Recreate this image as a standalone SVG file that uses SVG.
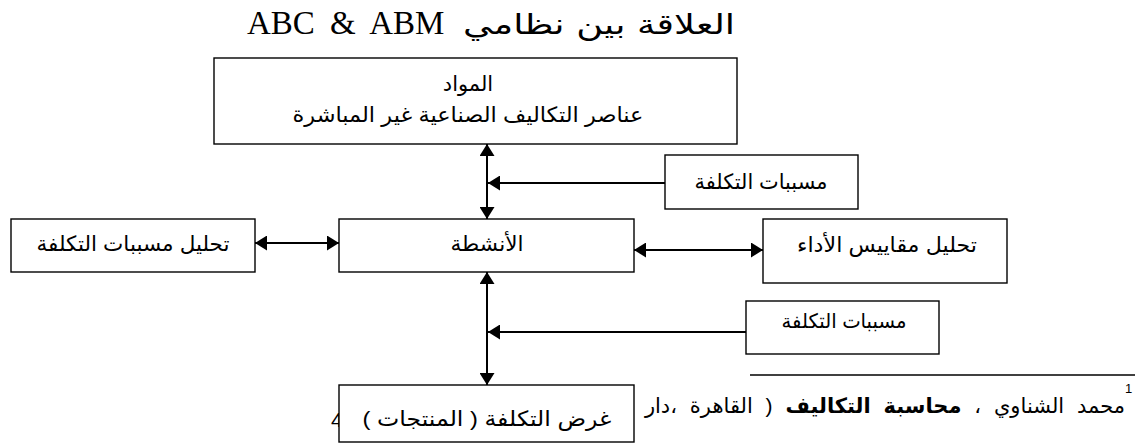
<svg xmlns="http://www.w3.org/2000/svg" width="1142" height="443" viewBox="0 0 1142 443">
<style>
.box{fill:#fff;stroke:#000;stroke-width:1.4}
.t{font-family:"Liberation Sans","DejaVu Sans",sans-serif;font-size:21px;fill:#000;text-anchor:middle;direction:rtl}
.c{stroke:#000;stroke-width:2;fill:none}
</style>
<defs>
<marker id="ah" markerUnits="userSpaceOnUse" markerWidth="13" markerHeight="15" refX="12" refY="7.5" orient="auto-start-reverse" viewBox="0 0 13 15">
<path d="M0,0 L12,7.5 L0,15 z" fill="#000"/>
</marker>
</defs>
<rect width="1142" height="443" fill="#fff"/>
<g id="title">
<text x="247" y="34" style="font-family:'Liberation Serif',serif;font-size:33px;word-spacing:7px">ABC &amp; ABM</text>
<text x="735" y="34" textLength="272" lengthAdjust="spacingAndGlyphs" style="font-family:'DejaVu Sans',sans-serif;font-size:28px;direction:rtl;text-anchor:start">العلاقة بين نظامي</text>
</g>

<g id="connectors">
<line class="c" x1="487" y1="144" x2="487" y2="219" marker-start="url(#ah)" marker-end="url(#ah)"/>
<line class="c" x1="665" y1="183" x2="488" y2="183" marker-end="url(#ah)"/>
<line class="c" x1="255" y1="243" x2="339" y2="243" marker-start="url(#ah)" marker-end="url(#ah)"/>
<line class="c" x1="634" y1="250" x2="763" y2="250" marker-start="url(#ah)" marker-end="url(#ah)"/>
<line class="c" x1="487" y1="272" x2="487" y2="385" marker-start="url(#ah)" marker-end="url(#ah)"/>
<line class="c" x1="746" y1="332" x2="488" y2="332" marker-end="url(#ah)"/>
</g>

<g id="footnote">
<line x1="750" y1="375" x2="1135" y2="375" stroke="#000" stroke-width="1.5"/>
<text x="1125" y="393" style="font-family:'Liberation Sans',sans-serif;font-size:13px">1</text>
<text x="1125" y="413" class="t" style="text-anchor:start;word-spacing:7px">محمد الشناوي ، <tspan font-weight="bold">محاسبة التكاليف</tspan> ( القاهرة ،دار</text>
<text x="331" y="427" style="font-family:'Liberation Sans',sans-serif;font-size:21px">4</text>
</g>

<g id="n-materials">
<rect class="box" x="214" y="58" width="523" height="86"/>
<text class="t" x="468" y="91">المواد</text>
<text class="t" x="468" y="122" textLength="351" lengthAdjust="spacingAndGlyphs">عناصر التكاليف الصناعية غير المباشرة</text>
</g>
<g id="n-driver1">
<rect class="box" x="665" y="155" width="193" height="54"/>
<text class="t" x="761" y="189" textLength="133" lengthAdjust="spacingAndGlyphs">مسببات التكلفة</text>
</g>
<g id="n-driveranalysis">
<rect class="box" x="11" y="219" width="244" height="53"/>
<text class="t" x="133" y="251" textLength="193" lengthAdjust="spacingAndGlyphs">تحليل مسببات التكلفة</text>
</g>
<g id="n-activities">
<rect class="box" x="339" y="219" width="295" height="53"/>
<text class="t" x="487" y="251" textLength="73" lengthAdjust="spacingAndGlyphs">الأنشطة</text>
</g>
<g id="n-perf">
<rect class="box" x="763" y="219" width="244" height="64"/>
<text class="t" x="887" y="252" textLength="180" lengthAdjust="spacingAndGlyphs">تحليل مقاييس الأداء</text>
</g>
<g id="n-driver2">
<rect class="box" x="746" y="301" width="193" height="53"/>
<text class="t" x="844" y="328" textLength="125" lengthAdjust="spacingAndGlyphs" style="font-size:20px">مسببات التكلفة</text>
</g>
<g id="n-costobject">
<rect class="box" x="339" y="385" width="295" height="57"/>
<text class="t" x="487" y="426" textLength="249" lengthAdjust="spacingAndGlyphs">غرض التكلفة ( المنتجات )</text>
</g>
</svg>
